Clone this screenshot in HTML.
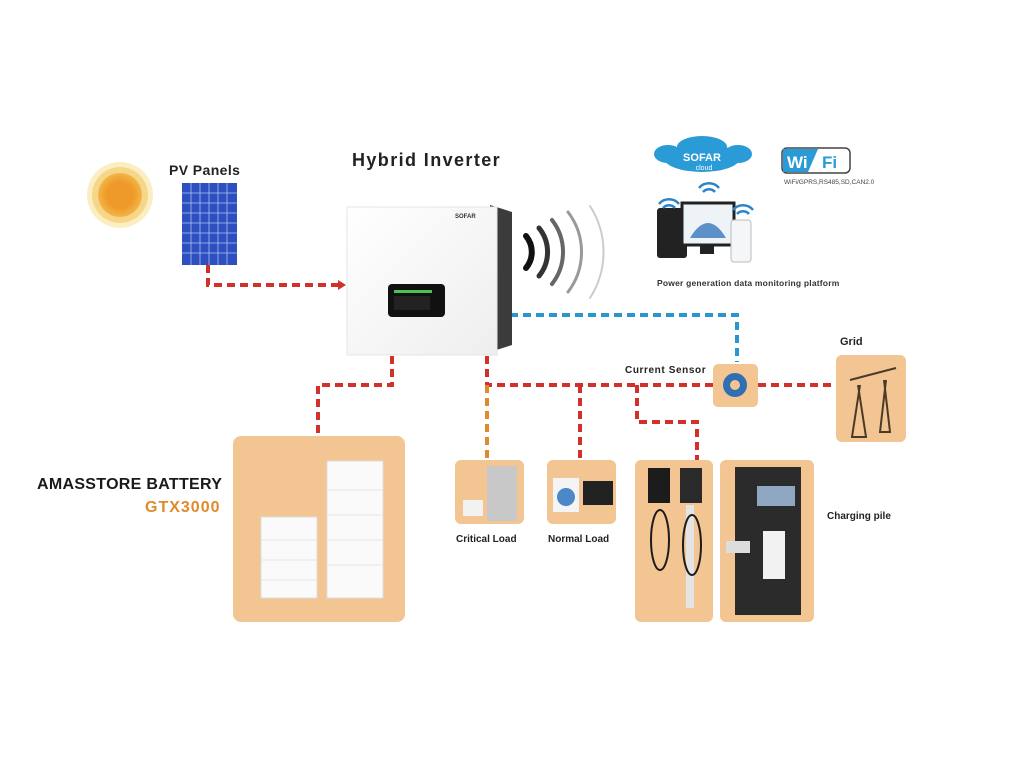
<!DOCTYPE html>
<html><head><meta charset="utf-8"><style>
html,body{margin:0;padding:0;background:#fff;}
body{width:1024px;height:768px;position:relative;overflow:hidden;font-family:"Liberation Sans",Arial,sans-serif;}
svg{position:absolute;left:0;top:0;}
</style></head><body>
<svg width="1024" height="768" viewBox="0 0 1024 768" xmlns="http://www.w3.org/2000/svg">
<defs>
<radialGradient id="sun"><stop offset="0.6" stop-color="#ee9a2a"/><stop offset="1" stop-color="#f3b548"/></radialGradient>
<linearGradient id="inv" x1="0" y1="0" x2="1" y2="1"><stop offset="0" stop-color="#ffffff"/><stop offset="1" stop-color="#eeeeee"/></linearGradient>
</defs>
<circle cx="120" cy="195" r="33" fill="#fbeec0"/>
<circle cx="120" cy="195" r="28" fill="#f6d68a"/>
<circle cx="120" cy="195" r="22" fill="url(#sun)"/>
<rect x="182" y="183" width="55" height="82" fill="#2d4fbf"/>
<g stroke="#aebff0" stroke-width="0.8">
<line x1="191" y1="183" x2="191" y2="265"/><line x1="200" y1="183" x2="200" y2="265"/><line x1="209" y1="183" x2="209" y2="265"/><line x1="218" y1="183" x2="218" y2="265"/><line x1="227" y1="183" x2="227" y2="265"/>
<line x1="182" y1="193" x2="237" y2="193"/><line x1="182" y1="203" x2="237" y2="203"/><line x1="182" y1="213" x2="237" y2="213"/><line x1="182" y1="223" x2="237" y2="223"/><line x1="182" y1="233" x2="237" y2="233"/><line x1="182" y1="243" x2="237" y2="243"/><line x1="182" y1="253" x2="237" y2="253"/>
</g>
<text x="169" y="175" font-size="14" font-weight="bold" fill="#222" letter-spacing="0.4">PV Panels</text>
<text x="352" y="166" font-size="18" font-weight="bold" fill="#222" letter-spacing="1.4">Hybrid Inverter</text>
<g fill="none" stroke-width="4" stroke-dasharray="8,5">
<path d="M208 265 V285 H340" stroke="#d2302a"/>
<path d="M392 356 V385 H318 V436" stroke="#d2302a"/>
<path d="M487 356 V385 H713" stroke="#d2302a"/>
<path d="M758 385 H836" stroke="#d2302a"/>
<path d="M580 385 V460" stroke="#d2302a"/>
<path d="M637 385 V422 H697 V460" stroke="#d2302a"/>
<path d="M487 385 V460" stroke="#e08a2c"/>
<path d="M510 315 H737 V362" stroke="#2a96cf"/>
</g>
<polygon points="338,280 346,285 338,290" fill="#d2302a"/>
<polygon points="490,205 512,212 512,345 490,352" fill="#3b3b3b"/>
<rect x="347" y="207" width="150" height="148" fill="url(#inv)" stroke="#e4e4e4"/>
<rect x="388" y="284" width="57" height="33" rx="4" fill="#111"/>
<rect x="394" y="290" width="38" height="3" fill="#4ec24e"/>
<rect x="394" y="296" width="36" height="14" fill="#222"/>
<text x="455" y="218" font-size="6" font-weight="bold" fill="#333">SOFAR</text>
<g fill="none" stroke-linecap="round">
<path d="M526 236 A25 25 0 0 1 526 268" stroke="#111" stroke-width="6"/>
<path d="M539 228 A38 38 0 0 1 539 276" stroke="#333" stroke-width="5"/>
<path d="M552 220 A52 52 0 0 1 552 284" stroke="#666" stroke-width="4"/>
<path d="M568 212 A66 66 0 0 1 568 292" stroke="#999" stroke-width="3"/>
<path d="M590 206 A85 85 0 0 1 590 298" stroke="#ccc" stroke-width="2"/>
</g>
<g fill="#2a9bd7">
<ellipse cx="702" cy="158" rx="38" ry="14"/>
<ellipse cx="668" cy="154" rx="14" ry="9"/>
<ellipse cx="738" cy="154" rx="14" ry="9"/>
<ellipse cx="702" cy="147" rx="25" ry="11"/>
</g>
<text x="702" y="161" font-size="11" font-weight="bold" fill="#fff" text-anchor="middle">SOFAR</text>
<text x="704" y="170" font-size="7" fill="#fff" text-anchor="middle">cloud</text>
<rect x="782" y="148" width="68" height="25" rx="5" fill="#fff" stroke="#444" stroke-width="1.5"/>
<path d="M783 149 H818 L808 172 H783 Z" fill="#2a9bd7"/>
<text x="787" y="168" font-size="17" font-weight="bold" fill="#fff">Wi</text>
<text x="822" y="168" font-size="17" font-weight="bold" fill="#2a9bd7">Fi</text>
<text x="784" y="184" font-size="6.5" fill="#444">WiFi/GPRS,RS485,SD,CAN2.0</text>
<rect x="657" y="208" width="30" height="50" rx="3" fill="#222"/>
<rect x="682" y="203" width="52" height="42" fill="#eef3f8" stroke="#222" stroke-width="3"/>
<path d="M690 238 Q708 208 726 238 Z" fill="#5d8fc8"/>
<rect x="700" y="246" width="14" height="8" fill="#222"/>
<rect x="731" y="220" width="20" height="42" rx="3" fill="#f4f6f8" stroke="#bbb"/>
<g fill="none" stroke="#2a84c9" stroke-width="2.5">
<path d="M663 208 a8 8 0 0 1 12 0"/><path d="M659 204 a13 13 0 0 1 20 0"/>
<path d="M703 192 a8 8 0 0 1 12 0"/><path d="M699 188 a13 13 0 0 1 20 0"/>
<path d="M737 214 a8 8 0 0 1 12 0"/><path d="M733 210 a13 13 0 0 1 20 0"/>
</g>
<text x="657" y="286" font-size="8.5" font-weight="bold" fill="#333" letter-spacing="0.2">Power generation data monitoring platform</text>
<text x="625" y="373" font-size="10" font-weight="bold" fill="#222" letter-spacing="0.6">Current Sensor</text>
<rect x="713" y="364" width="45" height="43" rx="5" fill="#f3c592"/>
<circle cx="735" cy="385" r="12" fill="#2f6fb2"/><circle cx="735" cy="385" r="5" fill="#f3c592"/>
<text x="840" y="345" font-size="11" font-weight="bold" fill="#222">Grid</text>
<rect x="836" y="355" width="70" height="87" rx="6" fill="#f3c592"/>
<g stroke="#4a3a2a" stroke-width="2" fill="none">
<path d="M850 380 L896 368 M858 385 L866 437 H852 L860 385 M884 380 L890 432 H880 L886 380"/>
</g>
<text x="37" y="489" font-size="16" font-weight="bold" fill="#1a1a1a" letter-spacing="0.3">AMASSTORE BATTERY</text>
<text x="145" y="512" font-size="16" font-weight="bold" fill="#e08a2c" letter-spacing="1">GTX3000</text>
<rect x="233" y="436" width="172" height="186" rx="8" fill="#f3c592"/>
<rect x="261" y="517" width="56" height="81" fill="#fafafa" stroke="#ddd"/>
<rect x="327" y="461" width="56" height="137" fill="#fafafa" stroke="#ddd"/>
<g stroke="#e6e6e6"><line x1="261" y1="540" x2="317" y2="540"/><line x1="261" y1="560" x2="317" y2="560"/><line x1="261" y1="580" x2="317" y2="580"/>
<line x1="327" y1="490" x2="383" y2="490"/><line x1="327" y1="515" x2="383" y2="515"/><line x1="327" y1="540" x2="383" y2="540"/><line x1="327" y1="565" x2="383" y2="565"/></g>
<rect x="455" y="460" width="69" height="64" rx="6" fill="#f3c592"/>
<rect x="487" y="466" width="30" height="55" fill="#c8c8c8"/>
<rect x="463" y="500" width="20" height="16" fill="#f2f2f2"/>
<rect x="547" y="460" width="69" height="64" rx="6" fill="#f3c592"/>
<rect x="553" y="478" width="26" height="34" fill="#f4f4f4"/><circle cx="566" cy="497" r="9" fill="#4a88c8"/>
<rect x="583" y="481" width="30" height="24" fill="#222"/>
<text x="456" y="542" font-size="10" font-weight="bold" fill="#222">Critical Load</text>
<text x="548" y="542" font-size="10" font-weight="bold" fill="#222">Normal Load</text>
<rect x="635" y="460" width="78" height="162" rx="6" fill="#f3c592"/>
<rect x="648" y="468" width="22" height="35" fill="#1c1c1c"/>
<rect x="680" y="468" width="22" height="35" fill="#2a2a2a"/>
<rect x="686" y="505" width="8" height="103" fill="#e5e5e5"/>
<g fill="none" stroke="#1c1c1c" stroke-width="2"><ellipse cx="660" cy="540" rx="9" ry="30"/><ellipse cx="692" cy="545" rx="9" ry="30"/></g>
<rect x="720" y="460" width="94" height="162" rx="6" fill="#f3c592"/>
<rect x="735" y="467" width="66" height="148" fill="#2b2b2b"/>
<rect x="757" y="486" width="38" height="20" fill="#8fa7c0"/>
<rect x="763" y="531" width="22" height="48" fill="#f2f2f2"/>
<rect x="726" y="541" width="24" height="12" fill="#ddd"/>
<text x="827" y="519" font-size="10" font-weight="bold" fill="#222">Charging pile</text>
</svg>
</body></html>
